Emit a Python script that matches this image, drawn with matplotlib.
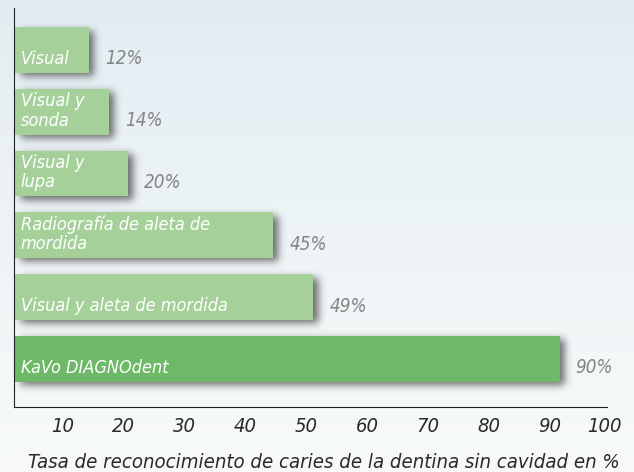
import numpy as np
import matplotlib
matplotlib.use("Agg")
import matplotlib.pyplot as plt
from matplotlib import font_manager
from matplotlib.font_manager import FontProperties

# data
methods = [
    "Visual",
    "Visual y\nsonda",
    "Visual y\nlupa",
    "Radiografía de aleta de\nmordida",
    "Visual y aleta de mordida",
    "KaVo DIAGNOdent",
]
rate_labels = ["12%", "14%", "20%", "45%", "49%", "90%"]
# bar lengths as drawn in the source (not exactly proportional to the labels)
bar_lengths = [12.4, 15.7, 18.8, 42.7, 49.3, 89.8]
xticks = [10, 20, 30, 40, 50, 60, 70, 80, 90, 100]
xlabel = "Tasa de reconocimiento de caries de la dentina sin cavidad en %"


# the source uses a narrow sans italic; look for one among installed faces
def find_narrow_italic():
    prefs = ["Noto Sans", "Liberation Sans Narrow", "Open Sans", "DejaVu Sans"]
    found = {}
    for f in font_manager.fontManager.ttflist:
        if "Serif" in f.name or "Mono" in f.name:
            continue
        narrow = str(f.stretch) in ("condensed", "semi-condensed") or "Narrow" in f.name \
            or "Condensed" in f.fname or "Narrow" in f.fname
        if narrow and f.style in ("italic", "oblique") and f.weight in (400, "normal", "regular", "book"):
            found.setdefault(f.name, f.fname)
    for p in prefs:
        if p in found:
            return found[p]
    return None


narrow_path = find_narrow_italic()


def font(size):
    if narrow_path:
        return FontProperties(fname=narrow_path, size=size)
    return FontProperties(family="Liberation Sans", style="italic", size=size - 1.5)


W, H, DPI = 634, 472, 100
fig = plt.figure(figsize=(W / DPI, H / DPI), dpi=DPI)

# background gradient
bg = fig.add_axes([0, 0, 1, 1], zorder=-2)
t = np.linspace(0, 1, 200)[:, None]
top = np.array([0.878, 0.925, 0.948])
bot = np.array([0.972, 0.980, 0.980])
grad = top + (bot - top) * t[..., None] ** 0.8
grad = np.repeat(grad, 2, axis=1)
bg.imshow(grad, aspect="auto", extent=[0, 1, 0, 1])
bg.axis("off")

# axes: x=0 at px 13.7, 6.08 px per unit
px_per_x = 6.08
x0_px = 13.7
xmax = 101
ax_left = x0_px / W
ax_w = xmax * px_per_x / W
ax_bottom = 1 - 407.3 / H
ax_top = 1 - 8 / H
ax = fig.add_axes([ax_left, ax_bottom, ax_w, ax_top - ax_bottom])
ax.patch.set_alpha(0)

n = len(methods)
ypos = np.arange(n)
bar_h = 0.74
colors = ["#a5d09a"] * (n - 1) + ["#6eb967"]

# soft drop shadow behind the bars
gx = np.linspace(0, xmax, 640)
gy = np.linspace(-0.68, n - 1 + 0.785, 400)
X, Y = np.meshgrid(gx, gy)
mask = np.zeros_like(X)
sx, sy = 4 / px_per_x, 4 / 61.7
for yp, v in zip(ypos, bar_lengths):
    mask[(X >= 0.3 + sx) & (X <= v + sx) & (Y >= yp - bar_h / 2 + sy) & (Y <= yp + bar_h / 2 + sy)] = 1
k = np.exp(-0.5 * (np.arange(-12, 13) / 4.0) ** 2)
k /= k.sum()
mask = np.apply_along_axis(lambda r: np.convolve(r, k, mode="same"), 1, mask)
mask = np.apply_along_axis(lambda c: np.convolve(c, k, mode="same"), 0, mask)
shadow = np.zeros(mask.shape + (4,))
shadow[..., :3] = 0.25
shadow[..., 3] = mask * 0.75
ax.imshow(shadow, extent=[0, xmax, gy[-1], gy[0]], aspect="auto", zorder=1, interpolation="bilinear")
ax.set_xlim(0, xmax)
ax.set_ylim(n - 1 + 0.785, -0.68)

ax.barh(ypos, bar_lengths, height=bar_h, color=colors, zorder=2)

for yp, v, name, lab in zip(ypos, bar_lengths, methods, rate_labels):
    ax.annotate(name, (0, yp + bar_h / 2), xytext=(7, 5), textcoords="offset pixels",
                ha="left", va="bottom", color="white", fontproperties=font(13),
                linespacing=1.1, zorder=3)
    ax.annotate(lab, (v, yp), xytext=(16, -9), textcoords="offset pixels",
                ha="left", va="center", color="#858585", fontproperties=font(13.5), zorder=3)

for s in ["top", "right"]:
    ax.spines[s].set_visible(False)
ax.spines["bottom"].set_bounds(0, 97.6)
ax.spines["left"].set_color("#222222")
ax.spines["bottom"].set_color("#222222")
ax.set_yticks([])
ax.set_xticks(xticks)
ax.set_xticklabels([str(x) for x in xticks], color="#2a2a2a")
for lbl in ax.get_xticklabels():
    lbl.set_horizontalalignment("right")
    lbl.set_fontproperties(font(14.5))
ax.tick_params(axis="x", length=0, pad=7)

fig.text(324 / W, 1 - 463 / H, xlabel, ha="center", va="center", fontproperties=font(14.6),
         color="#2a2a2a")

fig.savefig("out.png", dpi=DPI)
